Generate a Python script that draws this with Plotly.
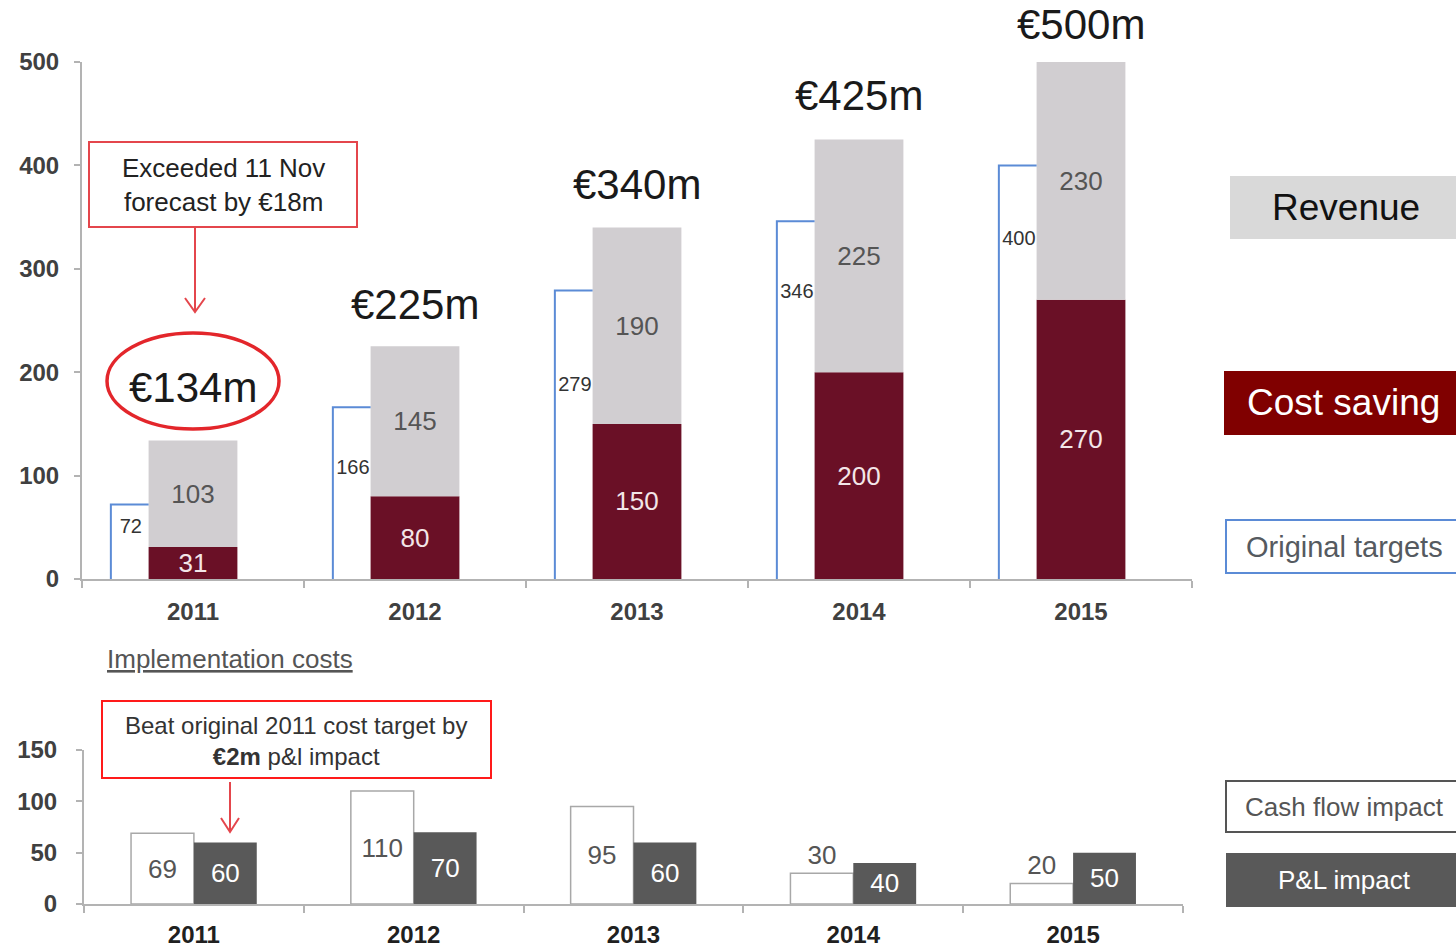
import plotly.graph_objects as go

# ---------------- data ----------------
years = ["2011", "2012", "2013", "2014", "2015"]
cost_saving = [31, 80, 150, 200, 270]
revenue = [103, 145, 190, 225, 230]
original_targets = [72, 166, 279, 346, 400]
cash_flow_impact = [69, 110, 95, 30, 20]
pl_impact = [60, 70, 60, 40, 50]
top_yticks = [0, 100, 200, 300, 400, 500]
bottom_yticks = [0, 50, 100, 150]

W, H = 1456, 949
FONT = "Arial, Liberation Sans, sans-serif"

# style: vertical placement of target labels as a fraction of each bracket height
target_label_frac = [0.69, 0.64, 0.67, 0.80, 0.82]
# style: vertical offset (px) of total labels above bars
total_shifts = [53, 42, 43, 44, 37]


def px(x):
    return x / W


def py(y):
    return 1 - y / H


idx = list(range(len(years)))
totals = [c + r for c, r in zip(cost_saving, revenue)]

fig = go.Figure()

# ---- top stacked bars ----
fig.add_trace(go.Bar(
    x=idx, y=cost_saving, width=0.4, marker=dict(color="#6a1026", line=dict(width=0)),
    text=[str(v) for v in cost_saving], textposition="inside", insidetextanchor="middle",
    textangle=0, constraintext="none",
    textfont=dict(color="#f3e6e8", size=26, family=FONT),
    xaxis="x", yaxis="y", showlegend=False, hoverinfo="skip"))
fig.add_trace(go.Bar(
    x=idx, y=revenue, base=cost_saving, width=0.4, marker=dict(color="#d1ced1", line=dict(width=0)),
    text=[str(v) for v in revenue], textposition="inside", insidetextanchor="middle",
    textangle=0, constraintext="none",
    textfont=dict(color="#555555", size=26, family=FONT),
    xaxis="x", yaxis="y", showlegend=False, hoverinfo="skip"))

# ---- original target brackets ----
bx, by = [], []
for i, t in zip(idx, original_targets):
    bx += [i - 0.37, i - 0.37, i - 0.2, None]
    by += [0, t, t, None]
fig.add_trace(go.Scatter(
    x=bx, y=by, mode="lines", line=dict(color="#5b8bd6", width=2),
    xaxis="x", yaxis="y", showlegend=False, hoverinfo="skip", cliponaxis=False))
fig.add_trace(go.Scatter(
    x=[i - 0.28 for i in idx], y=[t * f for t, f in zip(original_targets, target_label_frac)],
    mode="text", text=[str(t) for t in original_targets], textposition="middle center",
    textfont=dict(color="#333333", size=20, family=FONT),
    xaxis="x", yaxis="y", showlegend=False, hoverinfo="skip"))

# ---- bottom grouped bars ----
fig.add_trace(go.Bar(
    x=idx, y=cash_flow_impact, offset=-0.286, width=0.286,
    marker=dict(color="#ffffff", line=dict(color="#a8a8a8", width=1.5)),
    text=[str(v) for v in cash_flow_impact],
    textposition=["inside" if v >= 40 else "outside" for v in cash_flow_impact],
    insidetextanchor="middle", textangle=0, constraintext="none", cliponaxis=False,
    textfont=dict(color="#555555", size=26, family=FONT),
    xaxis="x2", yaxis="y2", showlegend=False, hoverinfo="skip"))
fig.add_trace(go.Bar(
    x=idx, y=pl_impact, offset=0, width=0.286,
    marker=dict(color="#595959", line=dict(width=0)),
    text=[str(v) for v in pl_impact], textposition="inside", insidetextanchor="middle",
    textangle=0, constraintext="none",
    textfont=dict(color="#ffffff", size=26, family=FONT),
    xaxis="x2", yaxis="y2", showlegend=False, hoverinfo="skip"))

axis_common = dict(showgrid=False, zeroline=False, showline=True, linecolor="#b3b3b3",
                   linewidth=2, tickcolor="#b3b3b3", tickwidth=1.5, automargin=False)
tickfont_y = dict(size=24, color="#404040", family=FONT, weight="bold")
minor_ticks = dict(tickmode="array", tickvals=[i - 0.5 for i in range(len(years) + 1)],
                   ticks="outside", ticklen=7, tickcolor="#b3b3b3", tickwidth=1.5)

fig.update_layout(
    width=W, height=H, margin=dict(l=0, r=0, t=0, b=0, autoexpand=False), autosize=False,
    paper_bgcolor="#ffffff", plot_bgcolor="rgba(0,0,0,0)",
    barmode="overlay", font=dict(family=FONT),
    xaxis=dict(domain=[px(82), px(1192)], range=[-0.5, 4.5], anchor="y",
               tickmode="array", tickvals=idx, ticktext=years, ticks="",
               ticklabelstandoff=10,
               tickfont=dict(size=24, color="#404040", family=FONT, weight="bold"),
               minor=minor_ticks, **axis_common),
    yaxis=dict(domain=[py(579), py(62)], range=[0, 500], anchor="x",
               tickmode="array", tickvals=top_yticks, ticks="outside", ticklen=6,
               ticklabelstandoff=10, tickfont=tickfont_y, **axis_common),
    xaxis2=dict(domain=[px(84), px(1183)], range=[-0.5, 4.5], anchor="y2",
                tickmode="array", tickvals=idx, ticktext=years, ticks="",
                ticklabelstandoff=8,
                tickfont=dict(size=24, color="#202020", family=FONT, weight="bold"),
                minor=minor_ticks, **axis_common),
    yaxis2=dict(domain=[py(904), py(750)], range=[0, 150], anchor="x2",
                tickmode="array", tickvals=bottom_yticks, ticks="outside", ticklen=6,
                ticklabelstandoff=14, tickfont=tickfont_y, **axis_common),
)

annotations = []
shapes = []


def note(x, y, text, size, color, **kw):
    d = dict(x=px(x), y=py(y), xref="paper", yref="paper", text=text, showarrow=False,
             xanchor="center", yanchor="middle", align="center",
             font=dict(size=size, color=color, family=FONT))
    d.update(kw)
    annotations.append(d)


# totals above bars
for i, tot in zip(idx, totals):
    annotations.append(dict(
        x=i, y=tot, xref="x", yref="y", text=f"€{tot}m", showarrow=False,
        xanchor="center", yanchor="middle", yshift=total_shifts[i],
        font=dict(size=42, color="#1a1a1a", family=FONT)))

# ellipse around first total
shapes.append(dict(type="circle", xref="paper", yref="paper",
                   x0=px(107), x1=px(279), y0=py(429), y1=py(333),
                   line=dict(color="#e3262b", width=3.5), layer="above"))

# top callout box + arrow
shapes.append(dict(type="rect", xref="paper", yref="paper",
                   x0=px(89), x1=px(357), y0=py(227), y1=py(142),
                   line=dict(color="#e4464c", width=2), fillcolor="#ffffff", layer="above"))
note(223, 185, "Exceeded 11 Nov<br>forecast by €18m", 26, "#222222")
shapes.append(dict(type="line", xref="paper", yref="paper",
                   x0=px(195), x1=px(195), y0=py(228), y1=py(312),
                   line=dict(color="#e4464c", width=2)))
shapes.append(dict(type="path", xref="paper", yref="paper",
                   path=f"M {px(185)} {py(298)} L {px(195)} {py(312)} L {px(205)} {py(298)}",
                   line=dict(color="#e4464c", width=2)))

# Implementation costs title
note(230, 659, "<u>Implementation costs</u>", 26, "#555555")

# bottom callout box + arrow
shapes.append(dict(type="rect", xref="paper", yref="paper",
                   x0=px(102), x1=px(491), y0=py(778), y1=py(701),
                   line=dict(color="#ff1a1a", width=2), fillcolor="#ffffff", layer="above"))
note(296, 741, "Beat original 2011 cost target by<br><b>€2m</b> p&l impact", 24, "#333333")
shapes.append(dict(type="line", xref="paper", yref="paper",
                   x0=px(230), x1=px(230), y0=py(782), y1=py(832),
                   line=dict(color="#e4464c", width=2)))
shapes.append(dict(type="path", xref="paper", yref="paper",
                   path=f"M {px(221)} {py(818)} L {px(230)} {py(832)} L {px(239)} {py(818)}",
                   line=dict(color="#e4464c", width=2)))

# right-side legend boxes
legend_boxes = [
    ("Revenue", 1230, 176, 239, "#d9d9d9", None, "#111111", 37),
    ("Cost saving", 1224, 371, 435, "#800000", None, "#ffffff", 37),
    ("Original targets", 1226, 520, 573, "#ffffff", "#5b8bd6", "#555a60", 29),
    ("Cash flow impact", 1226, 781, 832, "#ffffff", "#555555", "#555555", 26),
    ("P&L impact", 1226, 853, 907, "#595959", None, "#ffffff", 26),
]
for label, x0, y0, y1, fill, border, tcol, fs in legend_boxes:
    shapes.append(dict(type="rect", xref="paper", yref="paper",
                       x0=px(x0), x1=px(1460), y0=py(y1), y1=py(y0),
                       fillcolor=fill,
                       line=dict(color=border if border else fill, width=2 if border else 0),
                       layer="above"))
    note((x0 + 1456) / 2 + 3, (y0 + y1) / 2, label, fs, tcol)

fig.update_layout(annotations=annotations, shapes=shapes)

fig.write_html("out.html", config={"responsive": False, "displayModeBar": False},
               post_script="document.body.style.margin='0px';document.body.style.overflow='hidden';")
